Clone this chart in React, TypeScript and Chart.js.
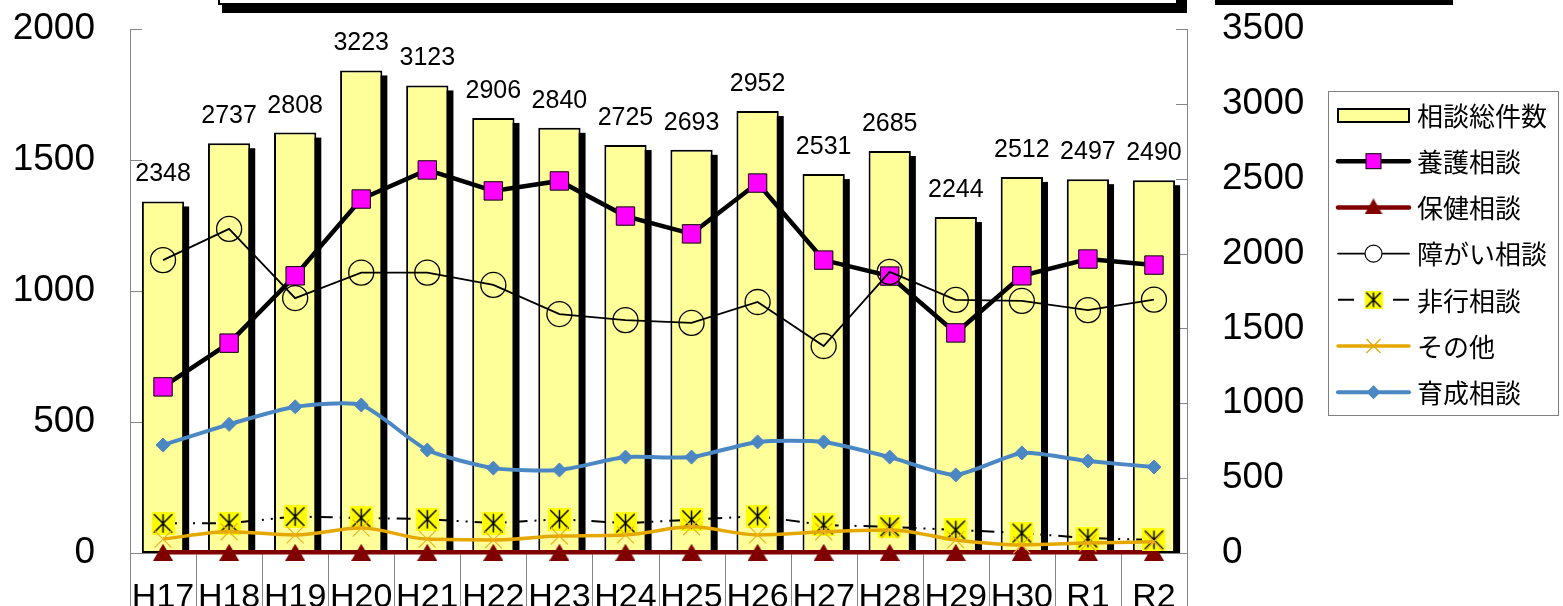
import React, { useEffect, useRef } from 'react';
import { Chart, registerables } from 'chart.js';

Chart.register(...registerables);

const categories = ['H17', 'H18', 'H19', 'H20', 'H21', 'H22', 'H23', 'H24', 'H25', 'H26', 'H27', 'H28', 'H29', 'H30', 'R1', 'R2'];
const totalCases = [2348, 2737, 2808, 3223, 3123, 2906, 2840, 2725, 2693, 2952, 2531, 2685, 2244, 2512, 2497, 2490];
const yougoCases = [634, 801, 1058, 1351, 1462, 1382, 1420, 1286, 1218, 1412, 1118, 1057, 840, 1058, 1122, 1099];
const hokenCases = [3, 3, 3, 3, 3, 3, 3, 3, 3, 3, 3, 3, 3, 3, 3, 3];
const shogaiCases = [1118, 1237, 973, 1070, 1070, 1023, 912, 889, 878, 958, 790, 1073, 966, 962, 927, 967];
const hikouCases = [113, 114, 139, 134, 129, 114, 129, 114, 127, 141, 107, 100, 88, 76, 57, 50];
const sonotaCases = [53, 81, 69, 95, 53, 50, 65, 69, 100, 69, 81, 88, 50, 31, 38, 43];
const ikuseiCases = [412, 491, 558, 565, 393, 324, 317, 366, 366, 424, 424, 366, 298, 382, 351, 328];

const leftMax = 2000;
const rightMax = 3500;
const tickStep = 500;

const seriesNames = ['相談総件数', '養護相談', '保健相談', '障がい相談', '非行相談', 'その他', '育成相談'];

const AXIS_GRAY = '#868686';
const NUM_FONT = '"Liberation Sans", Arial, sans-serif';
const JP_FONT = '"Noto Sans CJK JP", sans-serif';

function makeStarMarker(size: number) {
  const c = document.createElement('canvas');
  c.width = size;
  c.height = size;
  const g = c.getContext('2d')!;
  g.fillStyle = '#FFFF00';
  g.fillRect(0, 0, size, size);
  g.strokeStyle = '#000';
  g.lineWidth = 1.5;
  const m = size * 0.1;
  g.beginPath();
  g.moveTo(size / 2, m);
  g.lineTo(size / 2, size - m);
  g.moveTo(m, m);
  g.lineTo(size - m, size - m);
  g.moveTo(size - m, m);
  g.lineTo(m, size - m);
  g.stroke();
  return c;
}

function makeTriangle(w: number, h: number, color: string) {
  const c = document.createElement('canvas');
  c.width = w;
  c.height = h;
  const g = c.getContext('2d')!;
  g.fillStyle = color;
  g.beginPath();
  g.moveTo(w / 2, 0);
  g.lineTo(w, h);
  g.lineTo(0, h);
  g.closePath();
  g.fill();
  return c;
}

const noPad = (s: any) => {
  s.paddingTop = 0;
  s.paddingBottom = 0;
  s.paddingLeft = 0;
  s.paddingRight = 0;
};

export default function App() {
  const ref = useRef<HTMLCanvasElement>(null);

  useEffect(() => {
    const canvas = ref.current!;
    const starMarker = makeStarMarker(23);
    const starLegend = makeStarMarker(18);
    const triMarker = makeTriangle(20, 17, '#800000');
    const triLegend = makeTriangle(18, 16, '#800000');

    const axisPlugin = {
      id: 'axisDecor',
      beforeDatasetsDraw(chart: any) {
        const ctx = chart.ctx;
        const { x, y, y2 } = chart.scales;
        ctx.save();
        ctx.strokeStyle = AXIS_GRAY;
        ctx.lineWidth = 1;
        for (let v = 0; v <= leftMax; v += tickStep) {
          const py = Math.round(y.getPixelForValue(v)) + 0.5;
          ctx.beginPath();
          ctx.moveTo(x.left, py);
          ctx.lineTo(x.left + 12, py);
          ctx.stroke();
        }
        for (let v = 0; v <= rightMax; v += tickStep) {
          const py = Math.round(y2.getPixelForValue(v)) + 0.5;
          ctx.beginPath();
          ctx.moveTo(x.right - 11, py);
          ctx.lineTo(x.right, py);
          ctx.stroke();
        }
        const half = (x.getPixelForValue(1) - x.getPixelForValue(0)) / 2;
        for (let i = 0; i <= categories.length; i++) {
          const px = Math.round(x.getPixelForValue(i) - half) + 0.5;
          ctx.beginPath();
          ctx.moveTo(px, x.top);
          ctx.lineTo(px, chart.height);
          ctx.stroke();
        }
        const meta = chart.getDatasetMeta(0);
        ctx.fillStyle = '#000';
        meta.data.forEach((el: any) => {
          const w = el.width;
          ctx.fillRect(el.x - w / 2 + 5, el.y + 5, w, el.base - el.y - 5);
        });
        ctx.restore();
      },
      afterDatasetsDraw(chart: any) {
        const ctx = chart.ctx;
        const meta = chart.getDatasetMeta(0);
        ctx.save();
        ctx.fillStyle = '#000';
        ctx.font = `25px ${NUM_FONT}`;
        ctx.textAlign = 'center';
        ctx.textBaseline = 'alphabetic';
        meta.data.forEach((el: any, i: number) => {
          ctx.fillText(String(totalCases[i]), el.x, el.y - 20);
        });
        ctx.restore();
      },
      afterDraw(chart: any) {
        const ctx = chart.ctx;
        ctx.save();
        const bx = 1328, by = 91, bw = 230, bh = 324;
        ctx.strokeStyle = '#7f7f7f';
        ctx.lineWidth = 1;
        ctx.strokeRect(bx + 0.5, by + 0.5, bw, bh);
        const x0 = 1338, x1 = 1409, xm = (x0 + x1) / 2;
        const rowH = 46.2;
        const ds = chart.data.datasets;
        for (let i = 0; i < ds.length; i++) {
          const cy = by + 24 + i * rowH;
          const d = ds[i];
          if (i === 0) {
            ctx.fillStyle = '#FFFF99';
            ctx.fillRect(x0, cy - 6, x1 - x0, 13);
            ctx.strokeStyle = '#000';
            ctx.lineWidth = 2;
            ctx.strokeRect(x0, cy - 6, x1 - x0, 13);
          } else {
            ctx.strokeStyle = d.borderColor;
            ctx.lineWidth = d.borderWidth;
            ctx.lineCap = 'round';
            ctx.beginPath();
            if (d.borderDash) {
              ctx.lineCap = 'butt';
              ctx.moveTo(x0, cy);
              ctx.lineTo(x0 + 16, cy);
              ctx.moveTo(x1 - 16, cy);
              ctx.lineTo(x1, cy);
            } else {
              ctx.moveTo(x0, cy);
              ctx.lineTo(x1, cy);
            }
            ctx.stroke();
            ctx.lineCap = 'butt';
            if (i === 1) {
              ctx.fillStyle = '#FF00FF';
              ctx.fillRect(xm - 7.5, cy - 7.5, 15, 15);
              ctx.strokeStyle = '#000';
              ctx.lineWidth = 1;
              ctx.strokeRect(xm - 7.5, cy - 7.5, 15, 15);
            } else if (i === 2) {
              ctx.drawImage(triLegend, xm - triLegend.width / 2, cy - triLegend.height / 2 - 1);
            } else if (i === 3) {
              ctx.fillStyle = '#fff';
              ctx.strokeStyle = '#000';
              ctx.lineWidth = 1.2;
              ctx.beginPath();
              ctx.arc(xm, cy, 8.5, 0, Math.PI * 2);
              ctx.fill();
              ctx.stroke();
            } else if (i === 4) {
              ctx.drawImage(starLegend, xm - starLegend.width / 2, cy - starLegend.height / 2);
            } else if (i === 5) {
              ctx.strokeStyle = d.borderColor;
              ctx.lineWidth = 1.2;
              ctx.beginPath();
              ctx.moveTo(xm - 7, cy - 7);
              ctx.lineTo(xm + 7, cy + 7);
              ctx.moveTo(xm + 7, cy - 7);
              ctx.lineTo(xm - 7, cy + 7);
              ctx.stroke();
            } else if (i === 6) {
              ctx.fillStyle = d.borderColor;
              ctx.beginPath();
              ctx.moveTo(xm, cy - 7);
              ctx.lineTo(xm + 7, cy);
              ctx.lineTo(xm, cy + 7);
              ctx.lineTo(xm - 7, cy);
              ctx.closePath();
              ctx.fill();
            }
          }
          ctx.fillStyle = '#000';
          ctx.font = `26px ${JP_FONT}`;
          ctx.textAlign = 'left';
          ctx.textBaseline = 'middle';
          ctx.fillText(seriesNames[i], 1417, cy + 1);
        }
        ctx.restore();
      },
    };

    const chart = new Chart(canvas, {
      type: 'bar',
      data: {
        labels: categories,
        datasets: [
          {
            type: 'bar',
            label: seriesNames[0],
            data: totalCases,
            yAxisID: 'y2',
            backgroundColor: '#FFFF99',
            borderColor: '#000',
            borderWidth: 2,
            borderSkipped: false,
            barPercentage: 0.64,
            categoryPercentage: 1,
            order: 100,
          },
          {
            type: 'line',
            label: seriesNames[1],
            data: yougoCases,
            yAxisID: 'y',
            borderColor: '#000',
            borderWidth: 4.5,
            pointStyle: 'rect',
            pointRadius: 13,
            pointBackgroundColor: '#FF00FF',
            pointBorderColor: '#000',
            pointBorderWidth: 1,
            tension: 0,
            clip: false,
            order: 6,
          },
          {
            type: 'line',
            label: seriesNames[2],
            data: hokenCases,
            yAxisID: 'y',
            borderColor: '#800000',
            borderWidth: 4.5,
            pointStyle: triMarker,
            pointRadius: 10,
            tension: 0,
            clip: false,
            order: 5,
          },
          {
            type: 'line',
            label: seriesNames[3],
            data: shogaiCases,
            yAxisID: 'y',
            borderColor: '#000',
            borderWidth: 1.8,
            pointStyle: 'circle',
            pointRadius: 12.5,
            pointBackgroundColor: 'rgba(255,255,255,0)',
            pointBorderColor: '#000',
            pointBorderWidth: 1.3,
            tension: 0,
            clip: false,
            order: 4,
          },
          {
            type: 'line',
            label: seriesNames[4],
            data: hikouCases,
            yAxisID: 'y',
            borderColor: '#000',
            borderWidth: 2,
            borderDash: [14, 7, 2, 7, 2, 7],
            pointStyle: starMarker,
            pointRadius: 10,
            tension: 0,
            clip: false,
            order: 3,
          },
          {
            type: 'line',
            label: seriesNames[5],
            data: sonotaCases,
            yAxisID: 'y',
            borderColor: '#E5A800',
            borderWidth: 3.5,
            pointStyle: 'crossRot',
            pointRadius: 12,
            pointBorderColor: '#F0B020',
            pointBorderWidth: 1.2,
            cubicInterpolationMode: 'monotone',
            clip: false,
            order: 2,
          },
          {
            type: 'line',
            label: seriesNames[6],
            data: ikuseiCases,
            yAxisID: 'y',
            borderColor: '#4B87C3',
            borderWidth: 4,
            pointStyle: 'rectRot',
            pointRadius: 7,
            pointBackgroundColor: '#4B87C3',
            pointBorderColor: '#4B87C3',
            pointBorderWidth: 1,
            tension: 0.2,
            clip: false,
            order: 1,
          },
        ] as any,
      },
      options: {
        responsive: false,
        animation: false,
        events: [],
        layout: { padding: { top: 29, left: 0, right: 0, bottom: 0 } },
        plugins: {
          legend: { display: false },
          tooltip: { enabled: false },
        },
        scales: {
          x: {
            offset: true,
            grid: { display: false, drawTicks: false },
            border: { display: true, color: AXIS_GRAY, width: 1 },
            ticks: {
              color: '#000',
              font: { family: NUM_FONT, size: 34 },
              padding: 24,
              maxRotation: 0,
              autoSkip: false,
            },
            afterFit: (s: any) => {
              s.height = 53;
              noPad(s);
            },
          },
          y: {
            position: 'left',
            min: 0,
            max: leftMax,
            grid: { display: false, drawTicks: false },
            border: { display: true, color: AXIS_GRAY, width: 1 },
            ticks: {
              stepSize: tickStep,
              color: '#000',
              font: { family: NUM_FONT, size: 37 },
              padding: 35,
              callback: (v: any) => String(v),
            },
            afterFit: (s: any) => {
              s.width = 130;
              noPad(s);
            },
          },
          y2: {
            position: 'right',
            min: 0,
            max: rightMax,
            grid: { display: false, drawTicks: false },
            border: { display: true, color: AXIS_GRAY, width: 1 },
            ticks: {
              stepSize: tickStep,
              color: '#000',
              font: { family: NUM_FONT, size: 37 },
              padding: 35,
              callback: (v: any) => String(v),
            },
            afterFit: (s: any) => {
              s.width = 376;
              noPad(s);
            },
          },
        },
      } as any,
      plugins: [axisPlugin],
    });
    return () => chart.destroy();
  }, []);

  return (
    <div style={{ position: 'fixed', left: 0, top: 0, width: 1563, height: 606, background: '#fff', overflow: 'hidden' }}>
      <canvas ref={ref} width={1563} height={606} style={{ position: 'absolute', left: 0, top: 0 }} />
      <div style={{ position: 'absolute', left: 222, top: -60, width: 965, height: 73, background: '#000' }} />
      <div style={{ position: 'absolute', left: 218, top: -60, width: 960, height: 65, background: '#fff', border: '2px solid #000', boxSizing: 'border-box' }} />
      <div style={{ position: 'absolute', left: 1215, top: 0, width: 238, height: 5, background: '#000' }} />
    </div>
  );
}
